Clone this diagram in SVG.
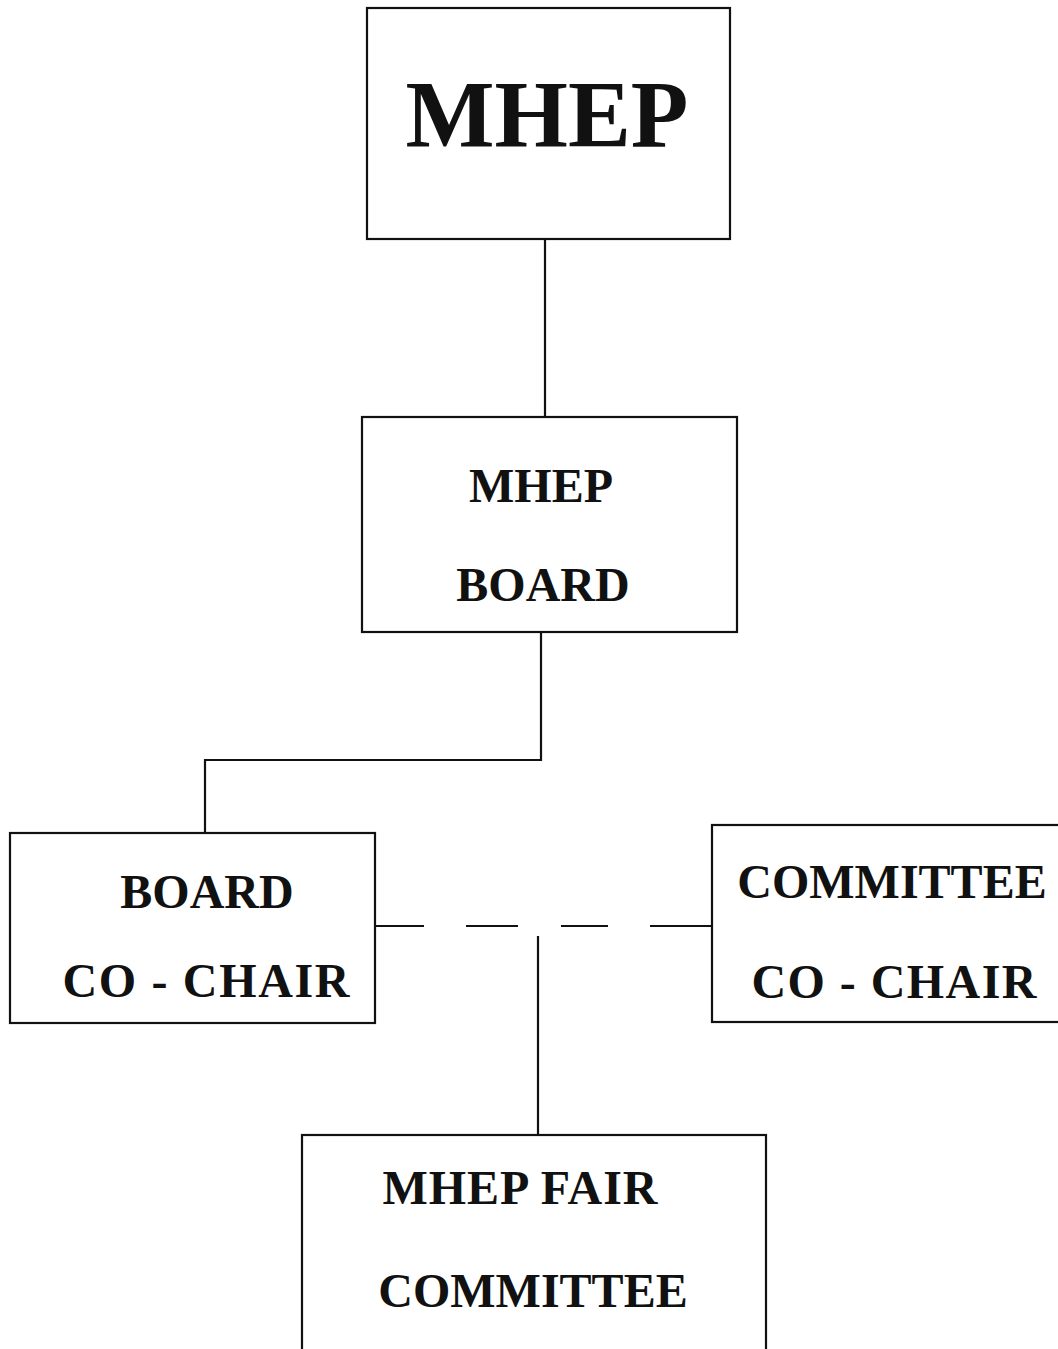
<svg xmlns="http://www.w3.org/2000/svg" width="1058" height="1349" viewBox="0 0 1058 1349">
<style>
.box{fill:#fff;stroke:#111;stroke-width:2.2}
.ln{fill:none;stroke:#111;stroke-width:2.2}
.t{font-family:"Liberation Serif","Times New Roman",serif;font-weight:bold;fill:#111;text-anchor:middle}
.big{font-size:95px}
.mid{font-size:48px}
</style>
<rect width="1058" height="1349" fill="#fff"/>
<g id="connectors">
<line class="ln" x1="545" y1="239" x2="545" y2="417"/>
<polyline class="ln" points="541,632 541,760 205,760 205,833"/>
<line class="ln" x1="375" y1="926" x2="712" y2="926" stroke-dasharray="49 42 52 43 47 42 62"/>
<line class="ln" x1="538" y1="936" x2="538" y2="1135"/>
</g>
<g id="mhep">
<rect class="box" x="367" y="8" width="363" height="231"/>
<text class="t big" x="547" y="147" textLength="283" lengthAdjust="spacingAndGlyphs">MHEP</text>
</g>
<g id="mhep-board">
<rect class="box" x="362" y="417" width="375" height="215"/>
<text class="t mid" x="541" y="502">MHEP</text>
<text class="t mid" x="543" y="601">BOARD</text>
</g>
<g id="board-co-chair">
<rect class="box" x="10" y="833" width="365" height="190"/>
<text class="t mid" x="207" y="908">BOARD</text>
<text class="t mid" x="206" y="997" textLength="287" lengthAdjust="spacing">CO - CHAIR</text>
</g>
<g id="committee-co-chair">
<rect class="box" x="712" y="825" width="360" height="197"/>
<text class="t mid" x="892" y="898">COMMITTEE</text>
<text class="t mid" x="894" y="998" textLength="285" lengthAdjust="spacing">CO - CHAIR</text>
</g>
<g id="mhep-fair-committee">
<rect class="box" x="302" y="1135" width="464" height="230"/>
<text class="t mid" x="520" y="1204" textLength="275" lengthAdjust="spacing">MHEP FAIR</text>
<text class="t mid" x="533" y="1307">COMMITTEE</text>
</g>
</svg>
